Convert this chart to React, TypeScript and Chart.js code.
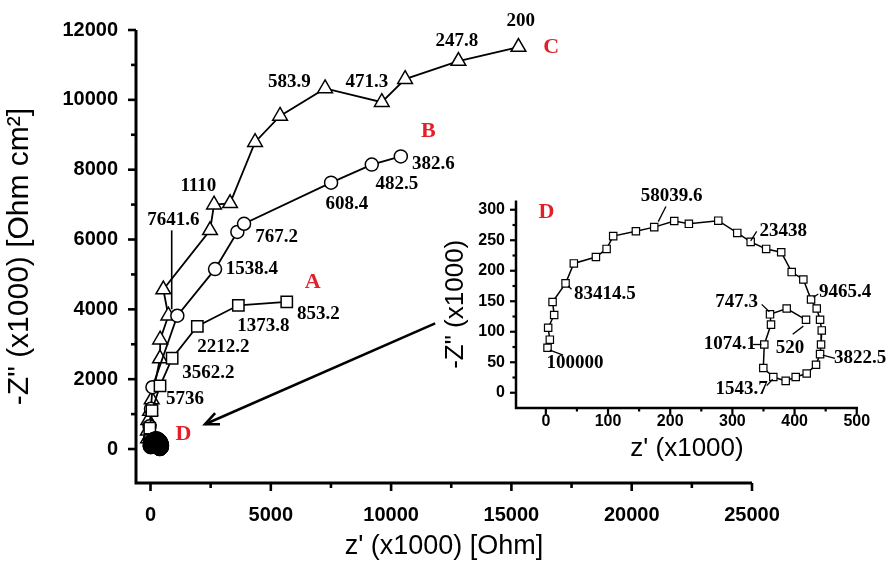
import { useEffect, useRef } from 'react';
import { Chart, registerables } from 'chart.js';
Chart.register(...registerables);

// ---------------- main chart data (z' x1000 Ohm, -Z'' x1000 Ohm cm2) ----------------
const seriesA_X = [0, -30, 60, 395, 900, 1946, 3651, 5663];
const seriesA_Y = [250, 600, 1100, 1810, 2600, 3515, 4116, 4212];

const seriesB_X = [-20, -40, 20, 80, 1115, 2682, 3610, 3888, 7505, 9196, 10403];
const seriesB_Y = [300, 650, 1150, 1770, 3817, 5152, 6217, 6451, 7628, 8145, 8380];

const seriesC_X = [-100, -110, -90, -20, 50, 395, 400, 742, 533, 2474, 2640, 3306, 4345, 5385, 7256, 9613, 10582, 12799, 15294];
const seriesC_Y = [300, 520, 824, 1087, 1417, 2592, 3130, 3817, 4568, 6262, 6997, 7036, 8786, 9538, 10328, 9933, 10593, 11110, 11513];

// ---------------- series D (inset, also plotted at origin of main chart) ----------------
const seriesD_X = [2.7, 6.4, 3.7, 13.4, 10.8, 31.7, 45, 80.5, 97.7, 108.3, 144.8, 174.3, 206.5, 230, 277.3, 307.8, 329.4, 354.3, 378.5, 395.4, 414.1, 426.5, 435.6, 441, 443.7, 442.6, 441, 434.5, 419.5, 401.8, 385.7, 365.8, 349.7, 351.3, 362.1, 360.5, 387.3, 418.4];
const seriesD_Y = [73.7, 87, 106.5, 127.5, 148.7, 179.3, 212, 222.5, 235.8, 256.8, 264.7, 271.5, 281.6, 276.9, 282.1, 262, 247.3, 235.8, 230.4, 197.8, 185.6, 152.8, 138.1, 119.6, 102.2, 79.1, 63.3, 45.9, 31.6, 25.8, 19.5, 25.8, 40.5, 79.1, 111.7, 128.6, 138.1, 119.6];

// ---------------- ticks ----------------
const mainXTicks = [0, 5000, 10000, 15000, 20000, 25000];
const mainXMinor = [2500, 7500, 12500, 17500, 22500];
const mainYTicks = [0, 2000, 4000, 6000, 8000, 10000, 12000];
const mainYMinor = [1000, 3000, 5000, 7000, 9000, 11000];

const insetXTicks = [0, 100, 200, 300, 400, 500];
const insetXMinor = [50, 150, 250, 350, 450];
const insetYTicks = [0, 50, 100, 150, 200, 250, 300];
const insetYMinor = [25, 75, 125, 175, 225, 275];

// ---------------- annotations: [text, x, y] in data units ----------------
type Lbl = [string, number, number];
const mainFreqLabels: Lbl[] = [
  ['200', 15393, 12267],
  ['247.8', 12731, 11674],
  ['471.3', 8990, 10497],
  ['583.9', 5771, 10517],
  ['1110', 1988, 7532],
  ['7641.6', 948, 6544],
  ['382.6', 11759, 8165],
  ['482.5', 10237, 7580],
  ['608.4', 8158, 7016],
  ['767.2', 5247, 6076],
  ['1538.4', 4208, 5152],
  ['853.2', 6977, 3862],
  ['1373.8', 4690, 3515],
  ['2212.2', 3027, 2922],
  ['3562.2', 2403, 2168],
  ['5736', 1435, 1417],
];
const mainSeriesNames: Lbl[] = [
  ['A', 6736, 4785],
  ['B', 11551, 9105],
  ['C', 16653, 11513],
  ['D', 1364, 429],
];
const mainLeaders = [[881, 6262, 881, 4003]];
const mainArrow = [11830, 3600, 2266, 711];

const insetFreqLabels: Lbl[] = [
  ['100000', 46.7, 48.4],
  ['83414.5', 95, 161.9],
  ['58039.6', 202.3, 322.8],
  ['23438', 381.9, 264.7],
  ['9465.4', 481.2, 164.6],
  ['3822.5', 505.3, 56.3],
  ['1543.7', 314.9, 6.3],
  ['1074.1', 296.1, 79.1],
  ['747.3', 306.9, 148.7],
  ['520', 392.7, 73.7],
];
const insetSeriesNames: Lbl[] = [['D', 1.1, 296.4]];
const insetLeaders = [
  [6.4, 69.9, 27.8, 61.7],
  [35.9, 175, 41.3, 169.8],
  [193.1, 305.4, 180.8, 280.6],
  [339.1, 264.7, 329.4, 248.9],
  [430.2, 156.6, 438.2, 161.9],
  [445.3, 61.7, 465, 56.3],
  [355.2, 11.6, 364.8, 22.2],
  [333.3, 79.1, 346.8, 79.1],
  [347.1, 144.9, 359.4, 132.9],
  [397, 95.9, 414.1, 109.2],
];

const SANS = "'Liberation Sans', Arial, sans-serif";
const SERIF = "'Liberation Serif', 'Times New Roman', serif";
const RED = '#e3202a';

const zip = (xs: number[], ys: number[]) => xs.map((x, i) => ({ x, y: ys[i] }));

function decorPlugin(cfg: any) {
  return {
    id: 'decor',
    beforeDatasetsDraw(chart: any) {
      const { ctx, chartArea: a, scales } = chart;
      const xs = scales.x, ys = scales.y;
      ctx.save();
      ctx.strokeStyle = '#000';
      ctx.lineWidth = cfg.axisWidth;
      ctx.lineJoin = 'miter';
      ctx.beginPath();
      ctx.moveTo(a.left, a.top);
      ctx.lineTo(a.left, a.bottom);
      ctx.lineTo(a.right, a.bottom);
      ctx.stroke();
      ctx.lineWidth = cfg.tickWidth;
      const xt = (v: number, len: number) => {
        const p = xs.getPixelForValue(v);
        ctx.beginPath();
        ctx.moveTo(p, a.bottom);
        ctx.lineTo(p, a.bottom + len);
        ctx.stroke();
      };
      const yt = (v: number, len: number) => {
        const p = ys.getPixelForValue(v);
        ctx.beginPath();
        ctx.moveTo(a.left, p);
        ctx.lineTo(a.left - len, p);
        ctx.stroke();
      };
      cfg.xMajor.forEach((v: number) => xt(v, cfg.majorLen));
      cfg.xMinor.forEach((v: number) => xt(v, cfg.minorLen));
      cfg.yMajor.forEach((v: number) => yt(v, cfg.majorLen));
      cfg.yMinor.forEach((v: number) => yt(v, cfg.minorLen));
      ctx.restore();
    },
    afterDraw(chart: any) {
      const { ctx, scales } = chart;
      const xs = scales.x, ys = scales.y;
      const px = (v: number) => xs.getPixelForValue(v);
      const py = (v: number) => ys.getPixelForValue(v);
      ctx.save();
      ctx.strokeStyle = '#000';
      ctx.lineWidth = cfg.leaderWidth;
      cfg.leaders.forEach((l: number[]) => {
        ctx.beginPath();
        ctx.moveTo(px(l[0]), py(l[1]));
        ctx.lineTo(px(l[2]), py(l[3]));
        ctx.stroke();
      });
      if (cfg.arrow) {
        const [x1, y1, x2, y2] = cfg.arrow;
        const ax = px(x1), ay = py(y1), bx = px(x2), by = py(y2);
        ctx.lineWidth = 2.6;
        ctx.beginPath();
        ctx.moveTo(ax, ay);
        ctx.lineTo(bx, by);
        ctx.stroke();
        const ang = Math.atan2(by - ay, bx - ax);
        const L = 15, w = 0.42;
        ctx.beginPath();
        ctx.moveTo(bx - L * Math.cos(ang - w), by - L * Math.sin(ang - w));
        ctx.lineTo(bx, by);
        ctx.lineTo(bx - L * Math.cos(ang + w), by - L * Math.sin(ang + w));
        ctx.stroke();
      }
      ctx.textAlign = 'center';
      ctx.textBaseline = 'middle';
      ctx.fillStyle = '#000';
      ctx.font = cfg.labelFont;
      cfg.labels.forEach((l: Lbl) => ctx.fillText(l[0], px(l[1]), py(l[2])));
      ctx.fillStyle = RED;
      ctx.font = cfg.redFont;
      cfg.redLabels.forEach((l: Lbl) => ctx.fillText(l[0], px(l[1]), py(l[2])));
      ctx.restore();
    },
  };
}

function scaleOpts(o: any) {
  return {
    type: 'linear',
    min: o.min,
    max: o.max,
    afterBuildTicks: (s: any) => {
      s.ticks = o.ticks.map((v: number) => ({ value: v }));
    },
    afterFit: (s: any) => {
      if (o.width !== undefined) s.width = o.width;
      if (o.height !== undefined) s.height = o.height;
    },
    grid: { display: false, drawTicks: false },
    border: { display: false },
    ticks: {
      callback: (v: any) => String(v),
      font: { family: SANS, size: o.tickSize, weight: 'bold' },
      color: '#000',
      padding: o.tickPad,
      maxRotation: 0,
      minRotation: 0,
      autoSkip: false,
    },
    title: {
      display: true,
      text: o.title,
      font: { family: SANS, size: o.titleSize, weight: 'normal' },
      color: '#000',
      padding: o.titlePad,
    },
  };
}

export default function App() {
  const mainRef = useRef<HTMLCanvasElement>(null);
  const insetRef = useRef<HTMLCanvasElement>(null);

  useEffect(() => {
    const white = { pointBackgroundColor: '#fff', pointBorderColor: '#000', borderColor: '#000' };
    const main = new Chart(mainRef.current!, {
      type: 'scatter',
      data: {
        datasets: [
          {
            label: 'D', data: zip(seriesD_X, seriesD_Y), showLine: true,
            borderColor: '#000', borderWidth: 1.5, pointStyle: 'circle', pointRadius: 7.5,
            pointBackgroundColor: '#000', pointBorderColor: '#000', pointBorderWidth: 1, clip: false,
          },
          {
            label: 'A', data: zip(seriesA_X, seriesA_Y), showLine: true, ...white,
            borderWidth: 1.8, pointStyle: 'rect', pointRadius: 8, pointBorderWidth: 1.5, clip: false,
          },
          {
            label: 'B', data: zip(seriesB_X, seriesB_Y), showLine: true, ...white,
            borderWidth: 1.8, pointStyle: 'circle', pointRadius: 6.5, pointBorderWidth: 1.5, clip: false,
          },
          {
            label: 'C', data: zip(seriesC_X, seriesC_Y), showLine: true, ...white,
            borderWidth: 1.8, pointStyle: 'triangle', pointRadius: 8.5, pointBorderWidth: 1.5, clip: false,
          },
        ],
      },
      options: {
        animation: false,
        responsive: false,
        events: [],
        layout: { padding: { left: 0, top: 23, right: 144, bottom: 0 } },
        plugins: { legend: { display: false }, tooltip: { enabled: false } },
        scales: {
          x: scaleOpts({
            min: -603, max: 25000, ticks: mainXTicks, height: 81, tickSize: 20, tickPad: 20,
            title: "z' (x1000) [Ohm]", titleSize: 27, titlePad: { top: 0, bottom: 0.8 },
          }),
          y: scaleOpts({
            min: -973, max: 12000, ticks: mainYTicks, width: 136, tickSize: 20, tickPad: 18,
            title: '-Z" (x1000) [Ohm cm²]', titleSize: 30, titlePad: { top: 1.5, bottom: 0 },
          }),
        },
      } as any,
      plugins: [
        decorPlugin({
          xMajor: mainXTicks, xMinor: mainXMinor, yMajor: mainYTicks, yMinor: mainYMinor,
          axisWidth: 3, tickWidth: 2.6, majorLen: 8, minorLen: 5,
          labels: mainFreqLabels, labelFont: `bold 19px ${SERIF}`,
          redLabels: mainSeriesNames, redFont: `bold 22px ${SERIF}`,
          leaders: mainLeaders, leaderWidth: 1.6, arrow: mainArrow,
        }),
      ],
    });

    const inset = new Chart(insetRef.current!, {
      type: 'scatter',
      data: {
        datasets: [
          {
            label: 'D', data: zip(seriesD_X, seriesD_Y), showLine: true, ...white,
            borderWidth: 1.5, pointStyle: 'rect', pointRadius: 5.2, pointBorderWidth: 1.2, clip: false,
          },
        ],
      },
      options: {
        animation: false,
        responsive: false,
        events: [],
        layout: { padding: { left: 0, top: 13, right: 38, bottom: 0 } },
        plugins: { legend: { display: false }, tooltip: { enabled: false } },
        scales: {
          x: scaleOpts({
            min: -48, max: 502, ticks: insetXTicks, height: 72, tickSize: 16, tickPad: 4,
            title: "z' (x1000)", titleSize: 26, titlePad: { top: 0, bottom: 15.4 },
          }),
          y: scaleOpts({
            min: -25, max: 315, ticks: insetYTicks, width: 86, tickSize: 16, tickPad: 11,
            title: '-Z" (x1000)', titleSize: 26, titlePad: { top: 10.4, bottom: 0 },
          }),
        },
      } as any,
      plugins: [
        decorPlugin({
          xMajor: insetXTicks, xMinor: insetXMinor, yMajor: insetYTicks, yMinor: insetYMinor,
          axisWidth: 2.5, tickWidth: 2.2, majorLen: 6, minorLen: 3.5,
          labels: insetFreqLabels, labelFont: `bold 19px ${SERIF}`,
          redLabels: insetSeriesNames, redFont: `bold 22px ${SERIF}`,
          leaders: insetLeaders, leaderWidth: 1.3,
        }),
      ],
    });

    return () => {
      main.destroy();
      inset.destroy();
    };
  }, []);

  return (
    <div style={{ position: 'absolute', left: 0, top: 0, width: 896, height: 564, background: '#fff' }}>
      <canvas ref={mainRef} width={896} height={564} style={{ position: 'absolute', left: 0, top: 0, width: 896, height: 564 }} />
      <canvas ref={insetRef} width={466} height={300} style={{ position: 'absolute', left: 430, top: 180, width: 466, height: 300 }} />
    </div>
  );
}
